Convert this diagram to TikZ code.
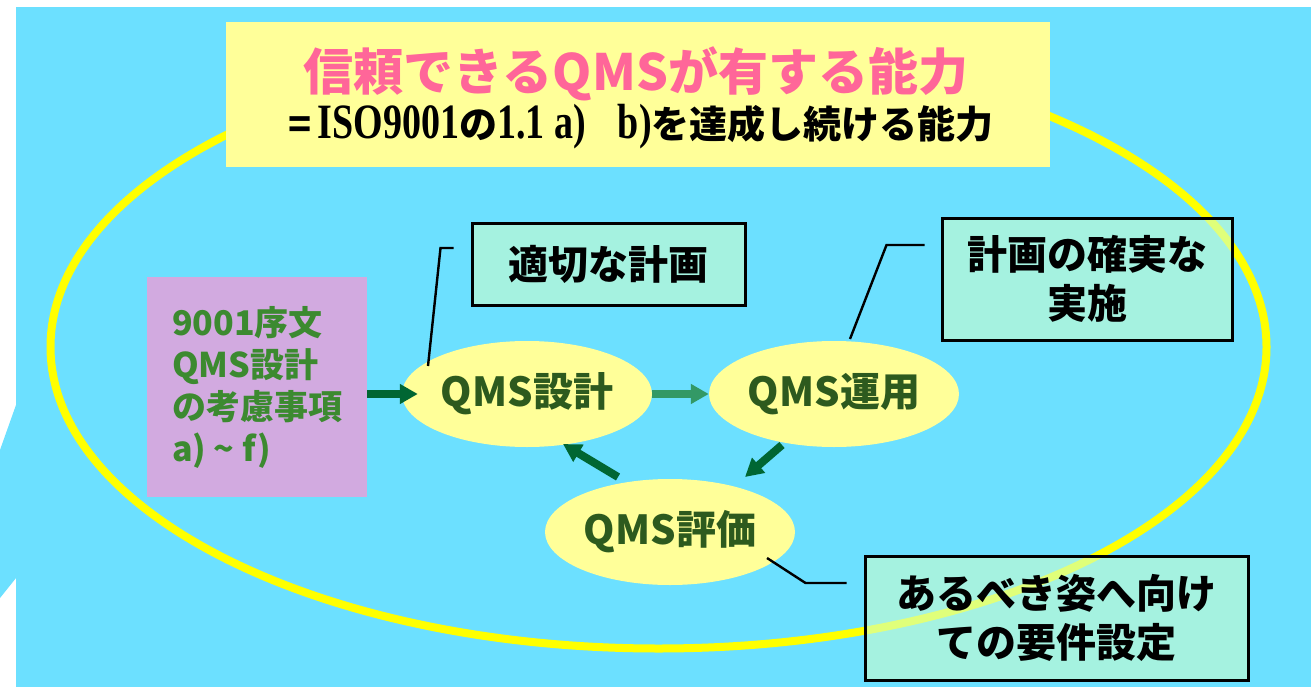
\documentclass[tikz,border=0pt]{standalone}
\usepackage{fontspec}
\usepackage{graphicx}
\newfontfamily\jp{Noto Sans CJK JP}
\newfontfamily\tms{Liberation Serif}
\usetikzlibrary{shapes.geometric,arrows.meta,calc}
\definecolor{bgblue}{RGB}{108,224,255}
\definecolor{ring}{RGB}{255,255,0}
\definecolor{paleyellow}{RGB}{255,255,153}
\definecolor{pinkbox}{RGB}{210,170,224}
\definecolor{titlepink}{RGB}{255,102,153}
\definecolor{boxgreen}{RGB}{60,138,48}
\definecolor{ellgreen}{RGB}{45,90,30}
\definecolor{arrdark}{RGB}{0,102,51}
\definecolor{arrlight}{RGB}{51,153,102}
\definecolor{callfill}{RGB}{204,255,204}
\tikzset{
  qmsell/.style={ellipse, fill=paleyellow, minimum width=250pt, minimum height=106pt,
    inner sep=0pt, text=ellgreen, font=\jp\bfseries\fontsize{40}{48}\selectfont},
  callbox/.style={rectangle, draw=black, line width=3pt, fill=callfill, fill opacity=0.6,
    text opacity=1, inner sep=0pt, align=center, font=\jp\bfseries\fontsize{40}{49}\selectfont},
  arr/.style={line width=8pt, -{Triangle[length=18pt,width=19pt]}},
  callline/.style={line width=2.4pt, black}
}
\begin{document}
\begin{tikzpicture}[x=1pt,y=-1pt]
% background
\fill[white] (0,0) rectangle (1311,687);
\fill[bgblue] (16,7) rectangle (1311,687);
\fill[bgblue] (16,405) -- (0,450) -- (0,598) -- (16,578) -- cycle;
% big ring
\draw[ring, line width=8pt] (658.5,347) ellipse [x radius=608, y radius=301.5];
% title box
\node[rectangle, fill=paleyellow, minimum width=824pt, minimum height=145pt, inner sep=0pt] (title) at (638,94.5) {};
\node[text=titlepink, font=\jp\bfseries\fontsize{50}{56}\selectfont, inner sep=0pt] (t1) at (636,74) {信頼できるQMSが有する能力};
\node[text=black, font=\jp\bfseries\fontsize{38}{44}\selectfont, inner sep=0pt] (t2) at (641,127)
  {=\,{\tms\bfseries\scalebox{1}[1.3]{ISO9001}}の{\tms\bfseries\scalebox{1}[1.3]{1.1 a)\hspace{32pt}b)}}を達成し続ける能力};
% pink box
\node[rectangle, fill=pinkbox, minimum width=220pt, minimum height=220pt, inner sep=0pt,
  text=boxgreen, align=left, font=\jp\bfseries\fontsize{34}{42}\selectfont] (pink) at (257,387)
  {9001序文\\QMS設計\\の考慮事項\\a) \textasciitilde{} f)};
% ellipses
\node[qmsell] (qd) at (527,394) {QMS設計};
\node[qmsell] (qu) at (834,394) {QMS運用};
\node[qmsell] (qe) at (670,532) {QMS評価};
% arrows
\draw[arr, arrdark] (pink.east |- qd.west) -- ([xshift=16pt]qd.west);
\draw[arr, arrlight] (qd.east) -- (qu.west);
\draw[arr, arrdark] ($(qu.center)+(-52,51)$) -- ($(qe.center)+(75,-55)$);
\draw[arr, arrdark] ($(qe.center)+(-52,-55)$) -- ($(qd.center)+(36,50)$);
% callout boxes
\node[callbox, minimum width=273pt, minimum height=82pt] (b1) at (608.5,264) {適切な計画};
\node[callbox, minimum width=290pt, minimum height=122pt] (b2) at (1087,279) {計画の確実な\\実施};
\node[callbox, minimum width=383pt, minimum height=124pt] (b3) at (1056.5,618) {あるべき姿へ向け\\ての要件設定};
% callout lines
\coordinate (c1) at ($(b1.west)+(-17,-16)$);
\coordinate (c2) at ($(b2.west)+(-16,-34)$);
\coordinate (c3) at ($(b3.west)+(-17,-35)$);
\draw[callline] (c1) -- ++(-13,0) -- ($(qd.center)+(-99,-28)$);
\draw[callline] (c2) -- ++(-38,0) -- ($(qu.center)+(16,-55)$);
\draw[callline] (c3) -- ++(-41,0) -- ($(qe.center)+(97,26)$);
\end{tikzpicture}
\end{document}
